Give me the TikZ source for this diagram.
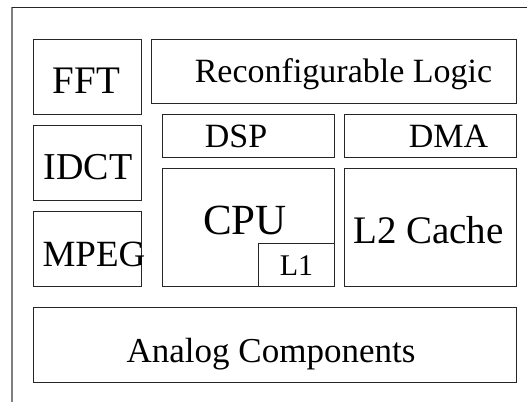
\documentclass[tikz,border=0pt]{standalone}
\usepackage{fontspec}
\setmainfont{Liberation Serif}
\begin{document}
\begin{tikzpicture}[x=1pt,y=-1pt,
  blk/.style={draw=black!85,line width=1pt,inner sep=0pt,anchor=north west},
  lbl/.style={inner sep=0pt,anchor=base,text=black}]
\useasboundingbox (0,0) rectangle (527,402);
% chip outline (runs off the right and bottom)
\coordinate (fa) at (12,402);
\coordinate (fb) at (12,7);
\coordinate (fc) at (527,7);
\draw[gray,line width=1.6pt] (fa) -- (fb);
\draw[black!85,line width=1pt] (fb) -- (fc);
% blocks: corner at top left, sizes in px
\node[blk,minimum width=108,minimum height=75] (fft) at (33,39) {};
\node[blk,minimum width=365,minimum height=64] (rl) at (151,39) {};
\node[blk,minimum width=172,minimum height=43] (dsp) at (162,114) {};
\node[blk,minimum width=172,minimum height=43] (dma) at (344,114) {};
\node[blk,minimum width=108,minimum height=75] (idct) at (33,125) {};
\node[blk,minimum width=108,minimum height=75] (mpeg) at (33,211) {};
\node[blk,minimum width=172,minimum height=118] (cpu) at (162,168) {};
\node[blk,minimum width=76,minimum height=43] (l1) at (258,243) {};
\node[blk,minimum width=172,minimum height=118] (l2) at (344,168) {};
\node[blk,minimum width=483,minimum height=75] (ana) at (33,307) {};
% labels
\node[lbl,font=\fontsize{39}{39}\selectfont] (tfft) at (86.5,93) {FFT};
\node[lbl,font=\fontsize{34}{34}\selectfont] (trl) at (343.5,82) {Reconfigurable Logic};
\node[lbl,font=\fontsize{34}{34}\selectfont] (tdsp) at (236,147) {DSP};
\node[lbl,font=\fontsize{34}{34}\selectfont] (tdma) at (448.5,147) {DMA};
\node[lbl,font=\fontsize{38}{38}\selectfont] (tidct) at (88,179) {IDCT};
\node[lbl,font=\fontsize{37}{37}\selectfont] (tmpeg) at (94,266) {MPEG};
\node[lbl,font=\fontsize{43}{43}\selectfont] (tcpu) at (245,234) {CPU};
\node[lbl,font=\fontsize{30}{30}\selectfont] (tl1) at (296.5,275) {L1};
\node[lbl,font=\fontsize{39}{39}\selectfont] (tl2) at (428.5,243) {L2 Cache};
\node[lbl,font=\fontsize{35}{35}\selectfont] (tana) at (271,362) {Analog Components};
\end{tikzpicture}
\end{document}
